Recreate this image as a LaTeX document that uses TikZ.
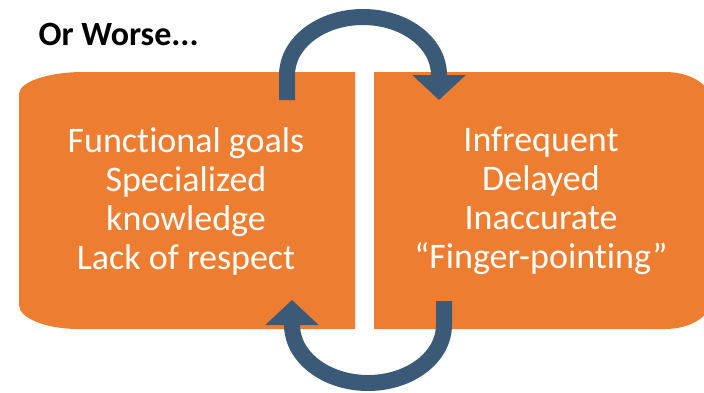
\documentclass[tikz,border=0pt]{standalone}
\usepackage{fontspec}
\setmainfont{Carlito}[Ligatures=NoCommon]
\usetikzlibrary{arrows.meta}
\definecolor{boxorange}{RGB}{237,125,49}
\definecolor{arrowblue}{RGB}{59,90,120}

\begin{document}
\begin{tikzpicture}[x=1pt,y=1pt,
    boxtext/.style={text=white, align=center, inner sep=0pt, font=\fontsize{36}{39}\selectfont},
    cyclearrow/.style={draw=arrowblue, line width=16pt, -{Triangle[width=52pt,length=25pt]}}]
    \useasboundingbox (0,0) rectangle (704,392);
    \clip (0,0) rectangle (704,392);

    % Boxes
    \fill[boxorange] (355,63) -- (79,63) arc[start angle=270, end angle=180, x radius=60pt, y radius=24pt]
        -- (19,298) arc[start angle=180, end angle=90, x radius=65pt, y radius=22pt] -- (355,320) -- cycle;
    \fill[boxorange] (374,63) -- (665,63) arc[start angle=-90, end angle=0, x radius=45pt, y radius=27pt]
        -- (710,293) arc[start angle=0, end angle=90, x radius=45pt, y radius=27pt] -- (374,320) -- cycle;

    \node[anchor=base west, font=\bfseries\fontsize{34}{40}\selectfont] (title) at (35,346) {Or Worse...};

    \node[boxtext] (causes) at (186,191) {Functional goals\\Specialized\\knowledge\\Lack of respect};
    \node[boxtext] (effects) at (541,191) {Infrequent\\Delayed\\Inaccurate\\“Finger-pointing”};

    % Arrows
    \coordinate (top-from) at (287,292);
    \coordinate (top-to) at (439,292);
    \coordinate (bot-from) at (444,91);
    \coordinate (bot-to) at (292,92);
    \draw[cyclearrow] (top-from) -- ++(0,25) arc[start angle=180, end angle=0, x radius=76pt, y radius=58pt] -- (top-to);
    \draw[cyclearrow] (bot-from) -- ++(0,-24) arc[start angle=0, end angle=-180, x radius=76pt, y radius=58pt] -- (bot-to);
\end{tikzpicture}
\end{document}
